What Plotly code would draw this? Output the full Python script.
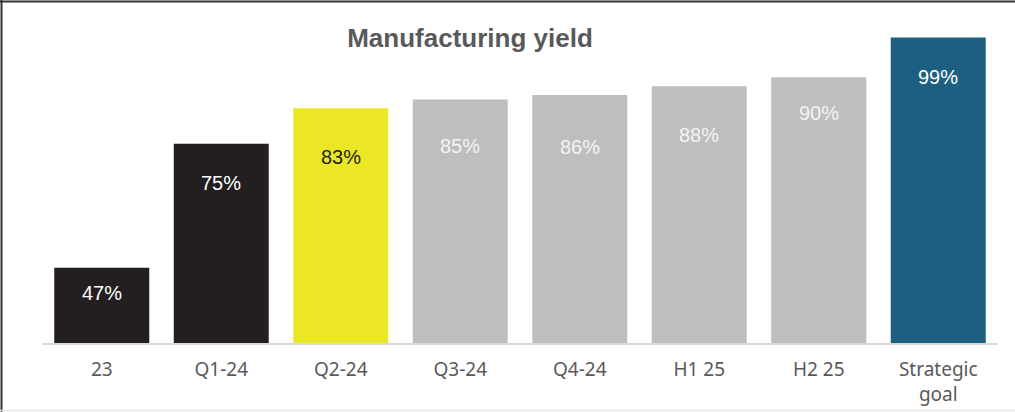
import plotly.graph_objects as go

categories = ["23", "Q1-24", "Q2-24", "Q3-24", "Q4-24", "H1 25", "H2 25", "Strategic<br>goal"]
values = [47, 75, 83, 85, 86, 88, 90, 99]
labels = ["47%", "75%", "83%", "85%", "86%", "88%", "90%", "99%"]

bar_colors = ["#231f20", "#231f20", "#ebe626", "#bfbdbe", "#bfbdbe", "#bfbdbe", "#bfbdbe", "#1d5f80"]
label_colors = ["#ffffff", "#ffffff", "#231f20", "#f4f4f4", "#f4f4f4", "#f4f4f4", "#f4f4f4", "#ffffff"]
label_drop_px = [25, 39, 49, 47, 52, 49, 36, 40]

W, H = 1015, 412
ML, MR, MT, MB = 42, 17, 33, 69
plot_w = W - ML - MR
plot_h = H - MT - MB

fig = go.Figure()
fig.add_trace(go.Bar(
    x=categories, y=values,
    marker=dict(color=bar_colors, line=dict(width=0)),
    hoverinfo="skip",
))

for i, (v, t, col, d) in enumerate(zip(values, labels, label_colors, label_drop_px)):
    fig.add_annotation(x=i, y=v, text=t, showarrow=False, yshift=-d,
                       yanchor="middle", xanchor="center",
                       font=dict(family="Liberation Sans, Arial", size=20, color=col))

def px_x(px):
    return (px - ML) / plot_w

def px_y(py):
    return (H - MB - py) / plot_h

shapes = [
    dict(type="line", xref="paper", yref="paper", x0=px_x(1.5), x1=px_x(1.5), y0=px_y(0), y1=px_y(412), line=dict(color="#333333", width=2)),
    dict(type="line", xref="paper", yref="paper", x0=px_x(0), x1=px_x(1015), y0=px_y(1.5), y1=px_y(1.5), line=dict(color="#333333", width=2)),
    dict(type="line", xref="paper", yref="paper", x0=px_x(0), x1=px_x(1015), y0=px_y(410.5), y1=px_y(410.5), line=dict(color="#e3e3e3", width=1.5)),
]

fig.update_layout(
    width=W, height=H,
    margin=dict(l=ML, r=MR, t=MT, b=MB, autoexpand=False),
    paper_bgcolor="white", plot_bgcolor="white",
    bargap=0.205,
    showlegend=False,
    shapes=shapes,
    title=dict(text="<b>Manufacturing yield</b>", x=px_x(470), xref="paper", xanchor="center",
               y=1 - 38 / H, yref="container", yanchor="middle",
               font=dict(family="Liberation Sans, Arial", size=26, color="#595959")),
    xaxis=dict(type="category", range=[-0.5, len(categories) - 0.5], showline=True,
               linecolor="#d9d9d9", linewidth=2, ticks="", showgrid=False, tickangle=0,
               automargin=False, ticklabelstandoff=8,
               tickfont=dict(family="Noto Sans", size=19, color="#595959"), fixedrange=True),
    yaxis=dict(range=[30, 100], visible=False, showgrid=False, fixedrange=True),
)

fig.write_html("out.html")
